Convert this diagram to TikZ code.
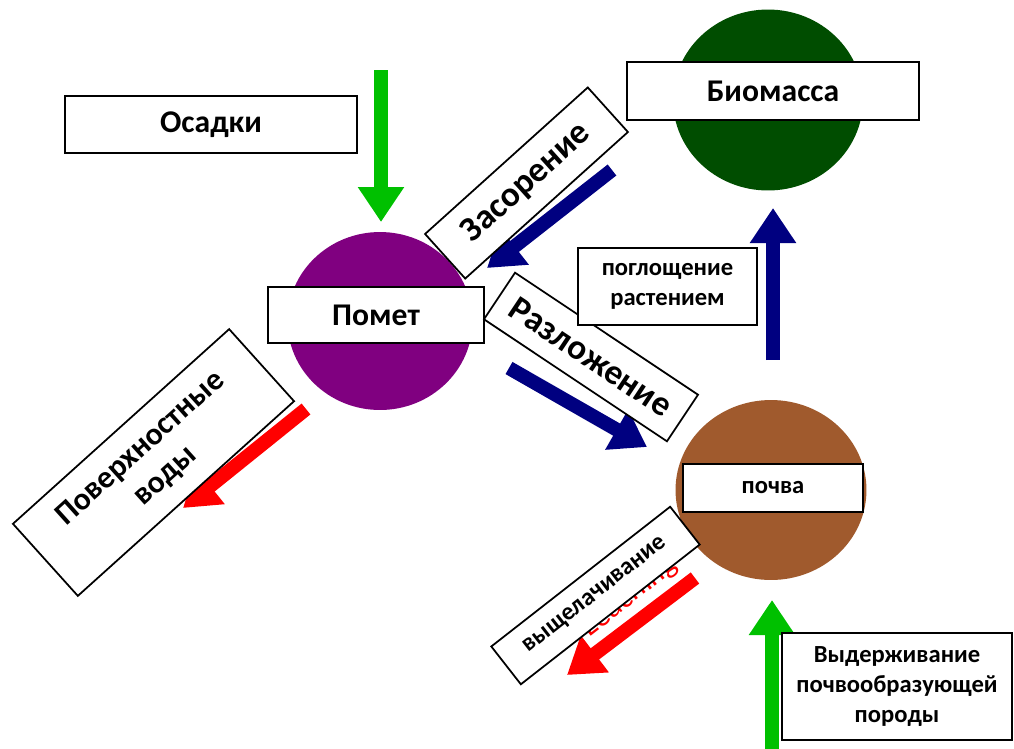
\documentclass[tikz,border=0pt]{standalone}
\usepackage{fontspec}
\setmainfont{Carlito}
\usetikzlibrary{positioning,shapes.geometric,arrows.meta}

\definecolor{pometcol}{RGB}{128,0,128}
\definecolor{biomasscol}{RGB}{0,77,0}
\definecolor{soilcol}{RGB}{160,90,45}
\definecolor{flowblue}{RGB}{0,0,128}
\definecolor{flowgreen}{RGB}{0,192,0}
\definecolor{flowred}{RGB}{255,0,0}

\begin{document}
\begin{tikzpicture}[x=0.02cm, y=-0.02cm,
          pool/.style={ellipse, inner sep=0pt},
          namebox/.style={draw, fill=white, line width=1pt, align=center, inner sep=0pt,
                          font=\bfseries\fontsize{18}{21}\selectfont},
          smallbox/.style={namebox, font=\bfseries\fontsize{14}{17}\selectfont},
          flow/.style={line width=0.28cm, -{Triangle[width=0.88cm, length=0.7cm]}}
        ]
          \useasboundingbox (0,0) rectangle (1014,748);

          % pools
          \node[pool, fill=pometcol, minimum width=3.7cm, minimum height=3.56cm] (pomet) at (380,321) {};
          \node[pool, fill=biomasscol, minimum width=3.8cm, minimum height=3.62cm] (biomass) at (768,100) {};
          \node[pool, fill=soilcol, minimum width=3.82cm, minimum height=3.6cm] (soil) at (771,490) {};

          % arrow ends
          \coordinate (rainS) at (381,70);
          \coordinate (rainE) at (381,222);
          \coordinate (litS) at (612,170);
          \coordinate (litE) at (487,268);
          \coordinate (decS) at (509,368);
          \coordinate (decE) at (647,447);
          \coordinate (uptS) at (773,360);
          \coordinate (uptE) at (773,208);
          \coordinate (runS) at (306,409);
          \coordinate (runE) at (183,508);
          \coordinate (leaS) at (695,578);
          \coordinate (leaE) at (567,675);
          \coordinate (rockS) at (772,760);
          \coordinate (rockE) at (772,600);

          % hidden text under the leaching box
          \node[rotate=38, text=flowred, font=\fontsize{18}{21}\selectfont] (leachtxt) at (629,596) {Leaching};

          % flows
          \draw[flow, flowgreen] (rainS) -- (rainE);
          \draw[flow, flowblue] (litS) -- (litE);
          \draw[flow, flowblue] (decS) -- (decE);
          \draw[flow, flowblue] (uptS) -- (uptE);
          \draw[flow, flowred] (runS) -- (runE);
          \draw[flow, flowred] (leaS) -- (leaE);
          \draw[flow, flowgreen] (rockS) -- (rockE);

          % labels
          \node[namebox, minimum width=5.84cm, minimum height=1.14cm] (osadki) at (211,124.5) {Осадки};
          \node[namebox, minimum width=4.32cm, minimum height=1.12cm] (pometlbl) at (376,315) {Помет};
          \node[namebox, minimum width=5.84cm, minimum height=1.16cm] (biomasslbl) at (773,91) {Биомасса};
          \node[smallbox, minimum width=3.6cm, minimum height=0.96cm] (soillbl) at (773,488) {почва};
          \node[namebox, rotate=42, minimum width=4.38cm, minimum height=1.2cm,
                font=\bfseries\fontsize{20}{23}\selectfont] (litlbl) at (526.5,183) {Засорение};
          \node[namebox, rotate=-33.7, minimum width=4.4cm, minimum height=1.12cm,
                font=\bfseries\fontsize{20}{23}\selectfont] (declbl) at (591,357) {Разложение};
          \node[smallbox, minimum width=3.58cm, minimum height=1.54cm] (uptlbl) at (667.5,286.5) {поглощение\\растением};
          \node[namebox, rotate=42, minimum width=5.82cm, minimum height=1.94cm] (runlbl) at (153.5,462.5) {Поверхностные\\воды};
          \node[smallbox, rotate=38, minimum width=4.54cm, minimum height=0.96cm] (lealbl) at (595.5,595.5) {выщелачивание};
          \node[smallbox, minimum width=4.6cm, minimum height=2.14cm] (rocklbl) at (897,686.5) {Выдерживание\\почвообразующей\\породы};
\end{tikzpicture}
\end{document}
